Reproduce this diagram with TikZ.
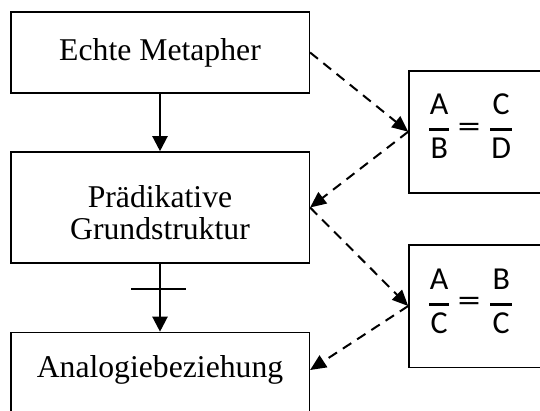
\documentclass[tikz,border=0pt]{standalone}
\usepackage{fontspec}
\setmainfont{Liberation Serif}
\newfontfamily\carl{Carlito}
\usetikzlibrary{arrows.meta,calc}
\tikzset{
  box/.style={draw, line width=1.6pt, rectangle, inner sep=0pt, align=center,
    font=\fontsize{31.7}{32}\selectfont},
  letter/.style={inner sep=0pt, anchor=base, font=\carl\fontsize{32}{36}\selectfont},
  eqsign/.style={inner sep=0pt, xscale=1.4, font=\carl\fontsize{33}{36}\selectfont},
  fracbar/.style={line width=3pt},
  solidarrow/.style={line width=2.2pt, -{Triangle[length=15pt,width=15pt]}},
  dasharrow/.style={line width=2pt, dash pattern=on 10pt off 7pt, -{Triangle[length=16pt,width=14pt]}},
  crossbar/.style={line width=2pt}
}
% #1 box name, #2 prefix, #3..#6 letters (coordinates: y grows downwards)
\newcommand\proportion[6]{%
  \node[letter] (#2n1) at ($(#1.west)+(31,-17)$) {#3};
  \node[letter] (#2d1) at ($(#1.west)+(31,27)$) {#4};
  \draw[fracbar] ($(#1.west)+(21,-2)$) -- ++(20,0);
  \node[eqsign] (#2eq) at ($(#1.west)+(61,-1.5)$) {=};
  \node[letter] (#2n2) at ($(#1.west)+(93,-17)$) {#5};
  \node[letter] (#2d2) at ($(#1.west)+(93,27)$) {#6};
  \draw[fracbar] ($(#1.west)+(82,-2)$) -- ++(22,0);
}
\begin{document}
\begin{tikzpicture}[x=1pt,y=-1pt]
\useasboundingbox (0,0) rectangle (540,410);
\clip (0,0) rectangle (540,410);
\fill[white] (0,0) rectangle (540,410);
\node[box, minimum width=298.6pt, minimum height=81pt] (em) at (160,52.5) {Echte Metapher};
\node[box, minimum width=298.6pt, minimum height=111pt] (pg) at (160,207.5) {\rule{0pt}{31.7pt}Prädikative\\Grundstruktur};
\node[box, minimum width=298.6pt, text height=45pt, text depth=40pt, anchor=base] (ab) at (160,377.5) {Analogiebeziehung};
\node[box, minimum width=164pt, minimum height=122pt] (rf1) at (491,131.7) {};
\node[box, minimum width=164pt, minimum height=122.6pt] (rf2) at (491,306) {};
\proportion{rf1}{p}{A}{B}{C}{D}
\proportion{rf2}{q}{A}{C}{B}{C}
\draw[solidarrow] (em.south) -- (pg.north);
\draw[solidarrow] (pg.south) -- coordinate[pos=0.37] (cb) (ab.north);
\draw[crossbar] ($(cb)+(-29,0)$) -- ($(cb)+(26,0)$);
\draw[dasharrow] (em.east) -- (rf1.west);
\draw[dasharrow] (rf1.west) -- (pg.east);
\draw[dasharrow] (pg.east) -- (rf2.west);
\draw[dasharrow] (rf2.west) -- ($(ab.east)+(0,-5)$);
\end{tikzpicture}
\end{document}
